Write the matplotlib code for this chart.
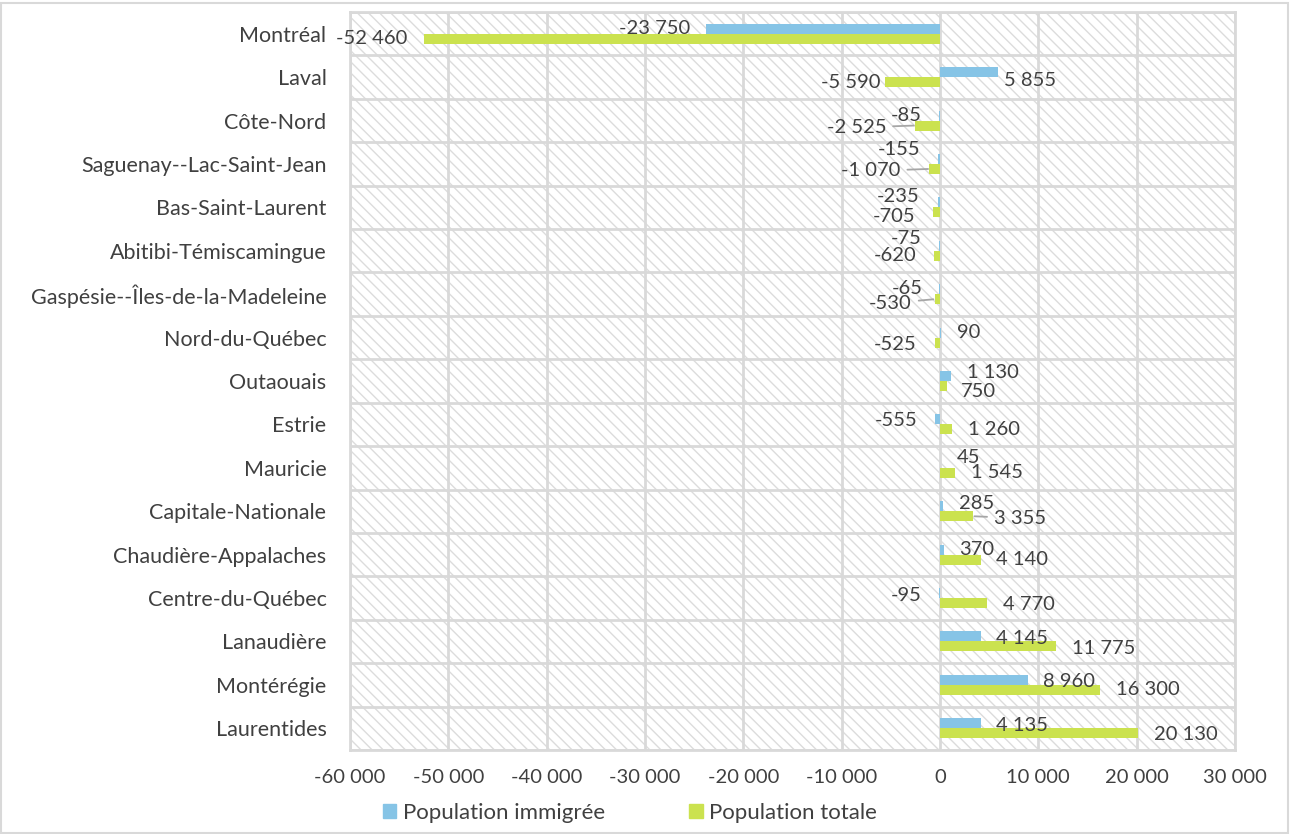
import numpy as np
import matplotlib.pyplot as plt
from matplotlib.patches import Rectangle, Patch

# data
regions = ["Montréal", "Laval", "Côte-Nord", "Saguenay--Lac-Saint-Jean",
           "Bas-Saint-Laurent", "Abitibi-Témiscamingue",
           "Gaspésie--Îles-de-la-Madeleine", "Nord-du-Québec", "Outaouais",
           "Estrie", "Mauricie", "Capitale-Nationale", "Chaudière-Appalaches",
           "Centre-du-Québec", "Lanaudière", "Montérégie", "Laurentides"]
pop_immigree = [-23750, 5855, -85, -155, -235, -75, -65, 90, 1130,
                -555, 45, 285, 370, -95, 4145, 8960, 4135]
pop_totale = [-52460, -5590, -2525, -1070, -705, -620, -530, -525, 750,
              1260, 1545, 3355, 4140, 4770, 11775, 16300, 20130]
x_ticks = [-60000, -50000, -40000, -30000, -20000, -10000, 0, 10000, 20000, 30000]
series_names = ["Population immigrée", "Population totale"]

# label nudges (pixels, relative to bar end), hand-placed like the original
imm_off = [(-16, 0), (6, -8), (-17, 0), (-18, 9), (-18, 6), (-18, 7), (-17, 1),
           (16, 0), (16, 4), (-17, -1), (16, 5), (16, 3), (15, 0), (-17, -2),
           (15, -2), (15, -2), (15, -2)]
tot_off = [(-17, 0), (-5, 0), (-29, -2), (-29, -2), (-18, -4), (-17, 0), (-23, -4),
           (-18, -2), (14, -6), (16, 0), (16, 0), (21, -2), (15, 0), (16, -1),
           (16, -2), (16, 0), (16, -1)]
tot_leader = [2, 3, 6, 11]

blue = "#86C4E6"
green = "#CBE24F"
grid_col = "#D9D9D9"
txt_col = "#404040"

plt.rcParams['font.family'] = ['Lato', 'DejaVu Sans']
plt.rcParams['hatch.linewidth'] = 1.0

fig = plt.figure(figsize=(12.91, 8.34), dpi=100)
fig.patches.append(Rectangle((0.001, 0.001), 0.997, 0.995, transform=fig.transFigure,
                             fill=False, edgecolor=grid_col, lw=1.5))
ax = fig.add_axes([350 / 1291, 1 - 750 / 834, 885 / 1291, 738 / 834])

# hatched plot area
ax.add_patch(Rectangle((0, 0), 1, 1, transform=ax.transAxes, facecolor="white",
                       edgecolor="#DCDCDC", lw=0, hatch="\\\\\\", zorder=0))

y = np.arange(len(regions))
h = 0.23
ax.barh(y - h / 2, pop_immigree, height=h, color=blue, zorder=3)
ax.barh(y + h / 2, pop_totale, height=h, color=green, zorder=3)

ax.set_xlim(-60000, 30000)
ax.set_ylim(len(regions) - 0.5, -0.5)
ax.set_xticks(x_ticks)
ax.set_xticklabels([f"{v:,}".replace(",", " ") for v in x_ticks],
                   fontsize=14.5, color=txt_col)
ax.set_yticks(y)
ax.set_yticklabels(regions, fontsize=15.5, color=txt_col)
ax.set_yticks(np.arange(len(regions) + 1) - 0.5, minor=True)
ax.tick_params(axis='both', which='both', length=0)
ax.tick_params(axis='x', pad=14)
ax.tick_params(axis='y', pad=17)
ax.grid(axis='x', color=grid_col, lw=2, zorder=1)
ax.grid(axis='y', which='minor', color=grid_col, lw=2, zorder=1)
ax.grid(axis='y', which='major', visible=False)
ax.set_axisbelow(True)
for s in ax.spines.values():
    s.set_color(grid_col)
    s.set_linewidth(2)


def lab(v):
    return f"{v:,}".replace(",", " ")


for i in range(len(regions)):
    for vals, offs, yy, leader in ((pop_immigree, imm_off, y[i] - h / 2, []),
                                   (pop_totale, tot_off, y[i] + h / 2, tot_leader)):
        v = vals[i]
        dx, dy = offs[i]
        kw = {}
        if i in leader:
            kw['arrowprops'] = dict(arrowstyle='-', color='#A6A6A6', lw=1.3,
                                    shrinkA=3, shrinkB=1)
        ax.annotate(lab(v), xy=(v, yy), xytext=(dx, dy), textcoords='offset pixels',
                    ha='left' if dx > 0 else 'right', va='center',
                    fontsize=14.5, color=txt_col, zorder=5, **kw)

handles = [Patch(color=blue), Patch(color=green)]
fig.legend(handles, series_names, loc='center', bbox_to_anchor=(0.488, 1 - 813 / 834),
           ncol=2, frameon=False, fontsize=16, handlelength=0.6, handleheight=0.6,
           handletextpad=0.3, columnspacing=3.8, labelcolor=txt_col)

fig.savefig("out.png", dpi=100)
